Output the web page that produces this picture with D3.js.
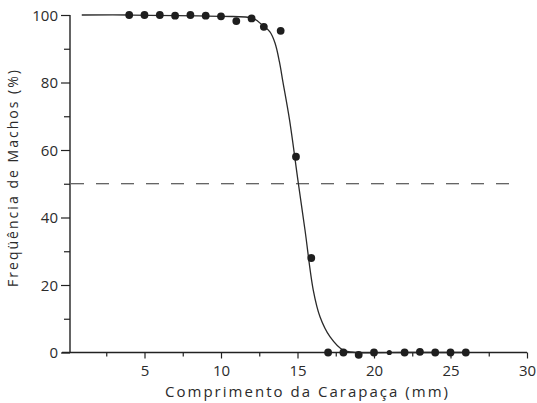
<!DOCTYPE html>
<html>
<head>
<meta charset="utf-8">
<script src="https://cdn.jsdelivr.net/npm/d3@7"></script>
<style>
  body { margin: 0; background: #fff; }
  text { font-family: "Open Sans", "DejaVu Sans", sans-serif; fill: #2b2b2b; }
</style>
</head>
<body>
<svg id="chart" width="537" height="403"></svg>
<script>
// observed points: carapace length (mm) vs % males
const pointSizes  = [4, 5, 6, 7, 8, 9, 10, 11, 12, 12.8, 13.9, 14.9, 15.9, 17, 18, 19, 20, 21, 22, 23, 24, 25, 26];
const pointValues = [100, 100, 100, 99.8, 100, 99.8, 99.6, 98.2, 99, 96.5, 95.3, 58, 28, 0, 0, -0.7, 0, 0, 0, 0.2, 0, 0, 0];
const smallPoints = [21];

// fitted curve
const curveSizes  = [0.9, 4, 10, 12.1, 12.75, 13.2, 13.53, 13.82, 14.05, 14.48, 15.05, 15.49, 16.03, 16.47, 17.12, 17.99, 18.87, 22, 26];
const curveValues = [100, 100, 99.6, 99, 96.8, 95, 91.7, 86.1, 80.1, 68.9, 50.3, 36.3, 18.5, 10.6, 4.7, 0.7, 0, 0, 0];

const xMajor = [5, 10, 15, 20, 25, 30];
const xMinor = [2.5, 7.5, 12.5, 17.5, 22.5, 27.5];
const yMajor = [0, 20, 40, 60, 80, 100];
const yMinor = [10, 30, 50, 70, 90];
const refLine = 50;

const svg = d3.select('#chart');
const ink = '#222';

const x = d3.scaleLinear().domain([0, 30]).range([68, 527]);
const y = d3.scaleLinear().domain([0, 100]).range([352.5, 15]);
const yAxisX = 70;

/********* x axis *********/
svg.append('line')
  .attr('x1', 62).attr('x2', x(30))
  .attr('y1', y(0)).attr('y2', y(0))
  .style('stroke', ink).style('stroke-width', 1.4);

const xAxisMajor = svg.append('g')
  .attr('transform', `translate(0, ${y(0)})`)
  .call(d3.axisBottom(x).tickValues(xMajor).tickSize(6).tickPadding(5).tickFormat(d3.format('d')));
const xAxisMinor = svg.append('g')
  .attr('transform', `translate(0, ${y(0)})`)
  .call(d3.axisBottom(x).tickValues(xMinor).tickSize(4).tickFormat(''));

/********* y axis *********/
const yAxisMajor = svg.append('g')
  .attr('transform', `translate(${yAxisX}, 0)`)
  .call(d3.axisLeft(y).tickValues(yMajor).tickSize(9).tickPadding(3).tickFormat(d3.format('d')));
const yAxisMinor = svg.append('g')
  .attr('transform', `translate(${yAxisX}, 0)`)
  .call(d3.axisLeft(y).tickValues(yMinor).tickSize(6).tickFormat(''));

[xAxisMajor, xAxisMinor, yAxisMajor, yAxisMinor].forEach(g => {
  g.select('.domain').remove();
  g.selectAll('.tick line').style('stroke', ink).style('stroke-width', 1.2);
  g.selectAll('.tick text')
    .style('font-family', '"Open Sans", sans-serif')
    .style('font-size', '15px')
    .style('fill', '#2b2b2b');
});
xAxisMajor.selectAll('.tick text').attr('dy', '0.8em');
yAxisMajor.selectAll('.tick text').attr('dy', '0.36em');

svg.append('line')
  .attr('x1', yAxisX).attr('x2', yAxisX)
  .attr('y1', y(0)).attr('y2', y(100))
  .style('stroke', ink).style('stroke-width', 1.4);

/********* 50% reference line *********/
svg.append('line')
  .attr('x1', yAxisX + 1).attr('x2', 517)
  .attr('y1', y(refLine)).attr('y2', y(refLine))
  .style('stroke', '#333').style('stroke-width', 1.2)
  .style('stroke-dasharray', '13,12');

/********* fitted curve *********/
const curveData = curveSizes.map((s, i) => ({ s, v: curveValues[i] }));
const line = d3.line()
  .x(d => x(d.s))
  .y(d => y(d.v))
  .curve(d3.curveCatmullRom.alpha(0.5));

svg.append('path')
  .datum(curveData)
  .attr('d', line)
  .style('fill', 'none')
  .style('stroke', '#2a2a2a')
  .style('stroke-width', 1.3);

/********* points *********/
const points = pointSizes.map((s, i) => ({ s, v: pointValues[i] }));
svg.append('g').selectAll('circle')
  .data(points)
  .enter()
  .append('circle')
  .attr('cx', d => x(d.s))
  .attr('cy', d => y(d.v))
  .attr('r', d => smallPoints.includes(d.s) ? 2.6 : 3.9)
  .style('fill', '#1e1e1e');

/********* labels *********/
svg.append('text')
  .attr('x', 306.5)
  .attr('y', 397)
  .attr('text-anchor', 'middle')
  .attr('textLength', 283)
  .attr('lengthAdjust', 'spacing')
  .style('font-size', '15px')
  .text('Comprimento da Carapaça (mm)');

svg.append('text')
  .attr('transform', 'translate(18, 178.5) rotate(-90)')
  .attr('text-anchor', 'middle')
  .attr('textLength', 217)
  .attr('lengthAdjust', 'spacing')
  .style('font-size', '14px')
  .text('Freqüência de Machos (%)');
</script>
</body>
</html>
